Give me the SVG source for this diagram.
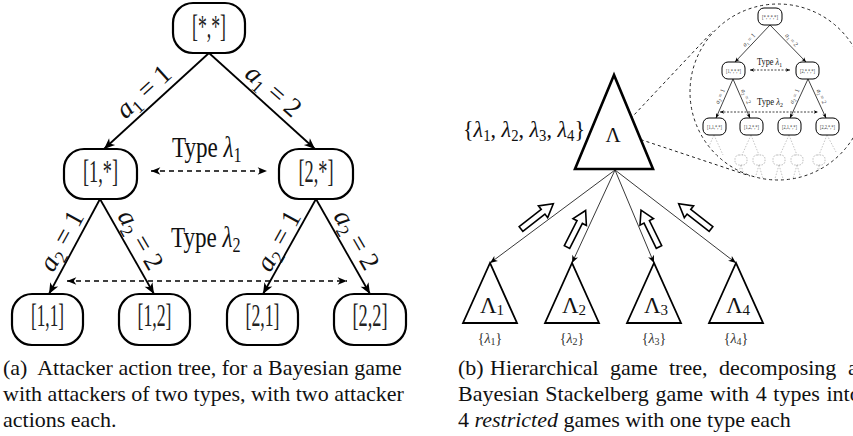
<svg xmlns="http://www.w3.org/2000/svg" width="853" height="436" viewBox="0 0 853 436">
<style>
text{font-family:"Liberation Serif","Times New Roman",serif;fill:#111}
.node rect{fill:#fff;stroke:#000;stroke-width:2.2}
.nl{font-size:32px;text-anchor:middle;fill:#222}
.edge{stroke:#000;stroke-width:1.8;fill:none;marker-end:url(#ah)}
.dd{stroke:#000;stroke-width:1.6;stroke-dasharray:5 4;fill:none;marker-start:url(#ahd);marker-end:url(#ahd)}
.el{font-size:27px;text-anchor:middle}
.it{font-style:italic}
.cap{font-size:22px}
.tri{fill:#fff;stroke:#000;stroke-width:1.8;stroke-linejoin:miter}
.big{stroke-width:2.6}
.conn{stroke:#222;stroke-width:0.9;fill:none;marker-end:url(#aht)}
.blk{fill:#fff;stroke:#000;stroke-width:1.6;stroke-linejoin:miter}
.mag{stroke:#222;stroke-width:1;stroke-dasharray:3 3;fill:none}
.inode rect{fill:#fff;stroke:#000;stroke-width:1}
.inl{font-size:5.5px;text-anchor:middle;fill:#333}
.iedge{stroke:#111;stroke-width:0.8;fill:none;marker-end:url(#ahs)}
.idd{stroke:#111;stroke-width:0.8;stroke-dasharray:2 1.5;fill:none;marker-start:url(#ahsd);marker-end:url(#ahsd)}
.iel{font-size:6.5px;text-anchor:middle;fill:#444}
.fade{stroke:#aaa;stroke-width:0.7;stroke-dasharray:1.5 1.5;fill:none}
.fnode{fill:#fff;stroke:#aaa;stroke-width:0.8;stroke-dasharray:1.5 1.2}
.sub{fill:#333}
</style>
<defs>
<marker id="ah" viewBox="-12 -6 13 12" refX="0" refY="0" markerWidth="13" markerHeight="12" markerUnits="userSpaceOnUse" orient="auto"><path d="M0,0 L-11,-4.5 L-8,0 L-11,4.5 Z" fill="#000"/></marker>
<marker id="ahd" viewBox="-12 -6 13 12" refX="0" refY="0" markerWidth="11" markerHeight="10.2" markerUnits="userSpaceOnUse" orient="auto-start-reverse"><path d="M0,0 L-11,-4.5 L-8,0 L-11,4.5 Z" fill="#000"/></marker>
<marker id="aht" viewBox="-12 -6 13 12" refX="0" refY="0" markerWidth="9" markerHeight="8.3" markerUnits="userSpaceOnUse" orient="auto"><path d="M0,0 L-11,-4.5 L-8,0 L-11,4.5 Z" fill="#000"/></marker>
<marker id="ahs" viewBox="-12 -6 13 12" refX="0" refY="0" markerWidth="5.5" markerHeight="5.1" markerUnits="userSpaceOnUse" orient="auto"><path d="M0,0 L-11,-4.5 L-8,0 L-11,4.5 Z" fill="#000"/></marker>
<marker id="ahsd" viewBox="-12 -6 13 12" refX="0" refY="0" markerWidth="5" markerHeight="4.6" markerUnits="userSpaceOnUse" orient="auto-start-reverse"><path d="M0,0 L-11,-4.5 L-8,0 L-11,4.5 Z" fill="#000"/></marker>
<path id="blkshape" d="M0,-3 L28,-3 L28,-7.5 L41,0 L28,7.5 L28,3 L0,3 Z"/>
<clipPath id="magclip"><circle cx="778" cy="92" r="88"/></clipPath>
</defs>

<!-- (a) Attacker action tree -->
<g id="connectors-a">
<line class="edge" x1="209" y1="53" x2="104" y2="149"/>
<line class="edge" x1="209" y1="53" x2="315" y2="149"/>
<line class="edge" x1="100" y1="199" x2="49" y2="294"/>
<line class="edge" x1="100" y1="199" x2="154" y2="294"/>
<line class="edge" x1="316" y1="199" x2="263" y2="294"/>
<line class="edge" x1="316" y1="199" x2="370" y2="294"/>
<line class="dd" x1="151" y1="171" x2="267" y2="171"/>
<line class="dd" x1="67" y1="281" x2="347" y2="281"/>
</g>
<g id="edge-labels-a">
<text class="el" transform="translate(144,92) rotate(-42.4)" y="8"><tspan class="it">a</tspan><tspan font-size="18" dy="5">1</tspan><tspan dy="-5"> = 1</tspan></text>
<text class="el" transform="translate(273,91) rotate(41.3)" y="8"><tspan class="it">a</tspan><tspan font-size="18" dy="5">1</tspan><tspan dy="-5"> = 2</tspan></text>
<text class="el" transform="translate(62,241) rotate(-61)" y="8"><tspan class="it">a</tspan><tspan font-size="18" dy="5">2</tspan><tspan dy="-5"> = 1</tspan></text>
<text class="el" transform="translate(140,240) rotate(60)" y="8"><tspan class="it">a</tspan><tspan font-size="18" dy="5">2</tspan><tspan dy="-5"> = 2</tspan></text>
<text class="el" transform="translate(279,241) rotate(-61)" y="8"><tspan class="it">a</tspan><tspan font-size="18" dy="5">2</tspan><tspan dy="-5"> = 1</tspan></text>
<text class="el" transform="translate(356,240) rotate(60)" y="8"><tspan class="it">a</tspan><tspan font-size="18" dy="5">2</tspan><tspan dy="-5"> = 2</tspan></text>
<text font-size="30" transform="translate(172,157) scale(0.77,1)">Type <tspan class="it">λ</tspan><tspan font-size="21" dy="5">1</tspan></text>
<text font-size="30" transform="translate(171,247) scale(0.77,1)">Type <tspan class="it">λ</tspan><tspan font-size="21" dy="5">2</tspan></text>
</g>
<g id="n-root" class="node"><rect x="173" y="3" width="72" height="50" rx="20"/><text class="nl" x="209" y="37" textLength="34" lengthAdjust="spacingAndGlyphs">[*,*]</text></g>
<g id="n-1" class="node"><rect x="64" y="149" width="73" height="50" rx="20"/><text class="nl" x="100.5" y="182" textLength="35" lengthAdjust="spacingAndGlyphs">[1,*]</text></g>
<g id="n-2" class="node"><rect x="279" y="149" width="74" height="50" rx="20"/><text class="nl" x="316" y="182" textLength="35" lengthAdjust="spacingAndGlyphs">[2,*]</text></g>
<g id="n-11" class="node"><rect x="12" y="294" width="71" height="51" rx="20"/><text class="nl" x="47.5" y="326" textLength="33" lengthAdjust="spacingAndGlyphs">[1,1]</text></g>
<g id="n-12" class="node"><rect x="119" y="294" width="71" height="51" rx="20"/><text class="nl" x="154.5" y="326" textLength="34" lengthAdjust="spacingAndGlyphs">[1,2]</text></g>
<g id="n-21" class="node"><rect x="227" y="294" width="71" height="51" rx="20"/><text class="nl" x="262.5" y="326" textLength="34" lengthAdjust="spacingAndGlyphs">[2,1]</text></g>
<g id="n-22" class="node"><rect x="334" y="294" width="72" height="51" rx="20"/><text class="nl" x="370" y="326" textLength="35" lengthAdjust="spacingAndGlyphs">[2,2]</text></g>

<g id="caption-a" class="cap">
<text x="3" y="375">(a)&#160; Attacker action tree, for a Bayesian game</text>
<text x="3" y="401">with attackers of two types, with two attacker</text>
<text x="3" y="427">actions each.</text>
</g>

<!-- (b) Hierarchical game tree -->
<g id="magnifier">
<circle class="mag" cx="778" cy="92" r="88"/>
<line class="mag" x1="618" y1="132" x2="713" y2="31"/>
<line class="mag" x1="618" y1="132" x2="750" y2="176"/>
</g>
<g id="inset">
<g id="inset-faded" clip-path="url(#magclip)">
<path class="fade" d="M714,135 L706,153 M714,135 L723,155 M751,135 L742,155 M751,135 L759,155 M789,135 L780,155 M789,135 L797,155 M827,135 L819,155 M827,135 L836,152"/>
<path class="fade" d="M741,165 L736,182 M741,165 L746,182 M759,165 L754,182 M759,165 L764,182 M779,165 L774,182 M779,165 L784,182 M797,165 L792,182 M797,165 L802,182 M819,165 L814,182 M819,165 L824,182"/>
<rect class="fnode" x="735" y="155" width="12" height="10" rx="4"/>
<rect class="fnode" x="753" y="155" width="12" height="10" rx="4"/>
<rect class="fnode" x="773" y="155" width="12" height="10" rx="4"/>
<rect class="fnode" x="791" y="155" width="12" height="10" rx="4"/>
<rect class="fnode" x="813" y="155" width="12" height="10" rx="4"/>
</g>
<g id="inset-connectors">
<line class="iedge" x1="770" y1="25" x2="735" y2="62"/>
<line class="iedge" x1="770" y1="25" x2="806" y2="62"/>
<line class="iedge" x1="733" y1="79" x2="716" y2="118"/>
<line class="iedge" x1="733" y1="79" x2="750" y2="118"/>
<line class="iedge" x1="808" y1="79" x2="790" y2="118"/>
<line class="iedge" x1="808" y1="79" x2="826" y2="118"/>
<line class="idd" x1="750" y1="70" x2="790" y2="70"/>
<line class="idd" x1="720" y1="112" x2="818" y2="112"/>
</g>
<g id="inset-labels">
<text class="iel" transform="translate(749,40) rotate(-46.6)" y="2"><tspan class="it">a</tspan><tspan font-size="4.5" dy="1.5">1</tspan><tspan dy="-1.5"> = 1</tspan></text>
<text class="iel" transform="translate(791.6,40) rotate(45.8)" y="2"><tspan class="it">a</tspan><tspan font-size="4.5" dy="1.5">1</tspan><tspan dy="-1.5"> = 2</tspan></text>
<text class="iel" transform="translate(720,96.5) rotate(-66.4)" y="2"><tspan class="it">a</tspan><tspan font-size="4.5" dy="1.5">2</tspan><tspan dy="-1.5"> = 1</tspan></text>
<text class="iel" transform="translate(746,96.5) rotate(66.4)" y="2"><tspan class="it">a</tspan><tspan font-size="4.5" dy="1.5">2</tspan><tspan dy="-1.5"> = 2</tspan></text>
<text class="iel" transform="translate(794.5,96.4) rotate(-65.2)" y="2"><tspan class="it">a</tspan><tspan font-size="4.5" dy="1.5">2</tspan><tspan dy="-1.5"> = 1</tspan></text>
<text class="iel" transform="translate(821.5,96.4) rotate(65.2)" y="2"><tspan class="it">a</tspan><tspan font-size="4.5" dy="1.5">2</tspan><tspan dy="-1.5"> = 2</tspan></text>
<text x="757" y="65" font-size="9.5" textLength="25" lengthAdjust="spacingAndGlyphs">Type <tspan class="it">λ</tspan><tspan font-size="6.5" dy="2">1</tspan></text>
<text x="757" y="105" font-size="9.5" textLength="26" lengthAdjust="spacingAndGlyphs">Type <tspan class="it">λ</tspan><tspan font-size="6.5" dy="2">2</tspan></text>
</g>
<g id="in-root" class="inode"><rect x="758" y="8" width="24" height="17" rx="6"/><text class="inl" x="770" y="18.5" textLength="16" lengthAdjust="spacingAndGlyphs">[*,*,*,*]</text></g>
<g id="in-1" class="inode"><rect x="722" y="62" width="23" height="17" rx="6"/><text class="inl" x="733.5" y="72.5" textLength="15" lengthAdjust="spacingAndGlyphs">[1,*,*,*]</text></g>
<g id="in-2" class="inode"><rect x="796" y="62" width="23" height="17" rx="6"/><text class="inl" x="807.5" y="72.5" textLength="15" lengthAdjust="spacingAndGlyphs">[2,*,*,*]</text></g>
<g id="in-11" class="inode"><rect x="703" y="118" width="23" height="17" rx="6"/><text class="inl" x="714.5" y="128.5" textLength="15" lengthAdjust="spacingAndGlyphs">[1,1,*,*]</text></g>
<g id="in-12" class="inode"><rect x="740" y="118" width="23" height="17" rx="6"/><text class="inl" x="751.5" y="128.5" textLength="15" lengthAdjust="spacingAndGlyphs">[1,2,*,*]</text></g>
<g id="in-21" class="inode"><rect x="778" y="118" width="23" height="17" rx="6"/><text class="inl" x="789.5" y="128.5" textLength="15" lengthAdjust="spacingAndGlyphs">[2,1,*,*]</text></g>
<g id="in-22" class="inode"><rect x="816" y="118" width="23" height="17" rx="6"/><text class="inl" x="827.5" y="128.5" textLength="15" lengthAdjust="spacingAndGlyphs">[2,2,*,*]</text></g>
</g>

<g id="connectors-b">
<line class="conn" x1="615" y1="170" x2="490" y2="263"/>
<line class="conn" x1="615" y1="170" x2="572" y2="263"/>
<line class="conn" x1="615" y1="170" x2="654" y2="263"/>
<line class="conn" x1="615" y1="170" x2="736" y2="263"/>
<use href="#blkshape" class="blk" transform="translate(521,229) rotate(-38)"/>
<use href="#blkshape" class="blk" transform="translate(567,247) rotate(-63)"/>
<use href="#blkshape" class="blk" transform="translate(659,247) rotate(-116)"/>
<use href="#blkshape" class="blk" transform="translate(711,229) rotate(-142)"/>
</g>
<g id="t-Lambda">
<polygon class="tri big" points="614,75 575,169 653,169"/>
<text x="613" y="142" font-size="21" text-anchor="middle">Λ</text>
<text x="463" y="137" font-size="24" textLength="122" lengthAdjust="spacingAndGlyphs">{<tspan class="it">λ</tspan><tspan font-size="16" dy="4">1</tspan><tspan dy="-4">, </tspan><tspan class="it">λ</tspan><tspan font-size="16" dy="4">2</tspan><tspan dy="-4">, </tspan><tspan class="it">λ</tspan><tspan font-size="16" dy="4">3</tspan><tspan dy="-4">, </tspan><tspan class="it">λ</tspan><tspan font-size="16" dy="4">4</tspan><tspan dy="-4">}</tspan></text>
</g>
<g id="t-Lambda1">
<polygon class="tri" points="490,263 463,323 517,323"/>
<text x="492" y="313" font-size="23" text-anchor="middle">Λ<tspan font-size="15" dy="2">1</tspan></text>
<text class="sub" x="490" y="343" font-size="14" text-anchor="middle">{<tspan class="it">λ</tspan><tspan font-size="10" dy="2">1</tspan><tspan dy="-2">}</tspan></text>
</g>
<g id="t-Lambda2">
<polygon class="tri" points="572,263 545,323 599,323"/>
<text x="574" y="313" font-size="23" text-anchor="middle">Λ<tspan font-size="15" dy="2">2</tspan></text>
<text class="sub" x="572" y="343" font-size="14" text-anchor="middle">{<tspan class="it">λ</tspan><tspan font-size="10" dy="2">2</tspan><tspan dy="-2">}</tspan></text>
</g>
<g id="t-Lambda3">
<polygon class="tri" points="654,263 627,323 681,323"/>
<text x="656" y="313" font-size="23" text-anchor="middle">Λ<tspan font-size="15" dy="2">3</tspan></text>
<text class="sub" x="654" y="343" font-size="14" text-anchor="middle">{<tspan class="it">λ</tspan><tspan font-size="10" dy="2">3</tspan><tspan dy="-2">}</tspan></text>
</g>
<g id="t-Lambda4">
<polygon class="tri" points="736,263 709,323 763,323"/>
<text x="738" y="313" font-size="23" text-anchor="middle">Λ<tspan font-size="15" dy="2">4</tspan></text>
<text class="sub" x="736" y="343" font-size="14" text-anchor="middle">{<tspan class="it">λ</tspan><tspan font-size="10" dy="2">4</tspan><tspan dy="-2">}</tspan></text>
</g>

<g id="caption-b" class="cap">
<text y="375"><tspan x="458">(b)</tspan><tspan x="490">Hierarchical</tspan><tspan x="610">game</tspan><tspan x="669">tree,</tspan><tspan x="719">decomposing</tspan><tspan x="848">a</tspan></text>
<text x="458" y="401" word-spacing="1.2">Bayesian Stackelberg game with 4 types into</text>
<text x="458" y="427">4 <tspan class="it">restricted</tspan> games with one type each</text>
</g>
</svg>
